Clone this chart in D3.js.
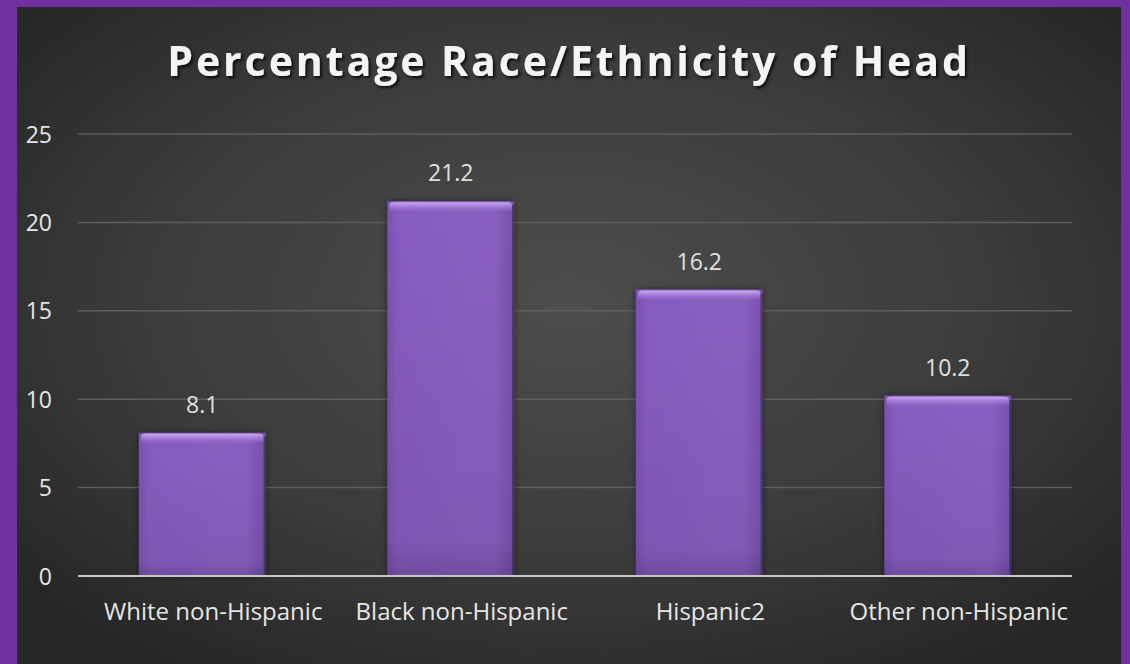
<!DOCTYPE html>
<html>
<head>
<meta charset="utf-8">
<script src="https://cdn.jsdelivr.net/npm/d3@7"></script>
<style>
  html, body { margin: 0; padding: 0; background: #7030a0; }
  svg { display: block; }
</style>
</head>
<body>
<svg id="chart" width="1130" height="664"></svg>
<script>
// Chart data
const categories = ["White non-Hispanic", "Black non-Hispanic", "Hispanic2", "Other non-Hispanic"];
const values = [8.1, 21.2, 16.2, 10.2];
const yTicks = [0, 5, 10, 15, 20, 25];
const titleText = "Percentage Race/Ethnicity of Head";

const W = 1130, H = 664;
const panel = { x: 17, y: 7, w: 1104, h: 657 };
const plot = { left: 78, right: 1072, top: 134, bottom: 576 };

const svg = d3.select("#chart");
const defs = svg.append("defs");

// Dark panel with a soft radial glow in the middle
const bg = defs.append("radialGradient").attr("id", "bgGrad")
  .attr("cx", "50%").attr("cy", "45%").attr("r", "65%");
bg.append("stop").attr("offset", "0%").attr("stop-color", "#4d4d4d");
bg.append("stop").attr("offset", "60%").attr("stop-color", "#3b3b3b");
bg.append("stop").attr("offset", "100%").attr("stop-color", "#272727");

// Bar body: slightly darker towards the sides
const barGrad = defs.append("linearGradient").attr("id", "barGrad")
  .attr("x1", "0").attr("x2", "1").attr("y1", "0").attr("y2", "0");
barGrad.append("stop").attr("offset", "0%").attr("stop-color", "#7a52b0");
barGrad.append("stop").attr("offset", "8%").attr("stop-color", "#875cc0");
barGrad.append("stop").attr("offset", "85%").attr("stop-color", "#8a5fc2");
barGrad.append("stop").attr("offset", "100%").attr("stop-color", "#7650ab");

// Vertical shading: darker towards the base
const barShade = defs.append("linearGradient").attr("id", "barShade")
  .attr("x1", "0").attr("x2", "0").attr("y1", "0").attr("y2", "1");
barShade.append("stop").attr("offset", "0%").attr("stop-color", "#000").attr("stop-opacity", 0);
barShade.append("stop").attr("offset", "90%").attr("stop-color", "#000").attr("stop-opacity", 0.06);
barShade.append("stop").attr("offset", "100%").attr("stop-color", "#000").attr("stop-opacity", 0.18);

// Soft highlight for the bevelled top edge
const topGlow = defs.append("linearGradient").attr("id", "topGlow")
  .attr("x1", "0").attr("x2", "0").attr("y1", "0").attr("y2", "1");
topGlow.append("stop").attr("offset", "0%").attr("stop-color", "#d2aef5").attr("stop-opacity", 0.95);
topGlow.append("stop").attr("offset", "100%").attr("stop-color", "#a57ad8").attr("stop-opacity", 0);

const glow = defs.append("filter").attr("id", "titleShadow")
  .attr("x", "-10%").attr("y", "-30%").attr("width", "120%").attr("height", "160%");
glow.append("feDropShadow").attr("dx", 2).attr("dy", 2).attr("stdDeviation", 1.5)
  .attr("flood-color", "#000").attr("flood-opacity", 0.8);

const barShadow = defs.append("filter").attr("id", "barShadow")
  .attr("x", "-20%").attr("y", "-10%").attr("width", "140%").attr("height", "120%");
barShadow.append("feDropShadow").attr("dx", 0).attr("dy", 0).attr("stdDeviation", 3)
  .attr("flood-color", "#000").attr("flood-opacity", 0.5);

svg.append("rect")
  .attr("x", panel.x).attr("y", panel.y)
  .attr("width", panel.w).attr("height", panel.h)
  .attr("fill", "url(#bgGrad)");

// Scales
const x = d3.scaleBand().domain(categories)
  .range([plot.left, plot.right]).paddingInner(0.49).paddingOuter(0.245);
const y = d3.scaleLinear().domain([0, 25]).range([plot.bottom, plot.top]);

// Gridlines
svg.append("g").selectAll("line").data(yTicks.filter(d => d > 0)).join("line")
  .attr("x1", plot.left).attr("x2", plot.right)
  .attr("y1", d => y(d)).attr("y2", d => y(d))
  .attr("stroke", "#5e5e5e").attr("stroke-width", 1.5);

// Y axis labels
const yAxis = svg.append("g")
  .attr("transform", `translate(${plot.left - 26},0)`)
  .call(d3.axisLeft(y).tickValues(yTicks).tickSize(0).tickPadding(0));
yAxis.select(".domain").remove();
yAxis.selectAll("text")
  .attr("fill", "#e6e6e6")
  .attr("font-family", "'Open Sans', sans-serif")
  .attr("font-size", 23)
  .attr("dy", "0.35em");

// Bars
const bars = svg.append("g").selectAll("g.bar").data(categories).join("g").attr("class", "bar");
bars.append("rect")
  .attr("x", d => x(d)).attr("width", x.bandwidth())
  .attr("y", (d, i) => y(values[i]))
  .attr("height", (d, i) => y(0) - y(values[i]))
  .attr("fill", "url(#barGrad)")
  .attr("filter", "url(#barShadow)");
bars.append("rect")
  .attr("x", d => x(d)).attr("width", x.bandwidth())
  .attr("y", (d, i) => y(values[i]))
  .attr("height", (d, i) => y(0) - y(values[i]))
  .attr("fill", "url(#barShade)");
bars.append("rect")
  .attr("x", d => x(d) + 2).attr("width", x.bandwidth() - 4)
  .attr("y", (d, i) => y(values[i]) + 1)
  .attr("height", 10)
  .attr("rx", 4)
  .attr("fill", "url(#topGlow)");
// Thin dark edge on the right
bars.append("rect")
  .attr("x", d => x(d) + x.bandwidth() - 2).attr("width", 2)
  .attr("y", (d, i) => y(values[i]) + 4)
  .attr("height", (d, i) => y(0) - y(values[i]) - 4)
  .attr("fill", "#2e1f48").attr("opacity", 0.6);

// Value labels
svg.append("g").selectAll("text").data(categories).join("text")
  .attr("x", d => x(d) + x.bandwidth() / 2)
  .attr("y", (d, i) => y(values[i]) - 20)
  .attr("text-anchor", "middle")
  .attr("fill", "#e0e0e0")
  .attr("font-family", "'Open Sans', sans-serif")
  .attr("font-size", 23)
  .text((d, i) => values[i].toFixed(1));

// Baseline
svg.append("line")
  .attr("x1", plot.left).attr("x2", plot.right)
  .attr("y1", y(0)).attr("y2", y(0))
  .attr("stroke", "#c8c8c8").attr("stroke-width", 2);

// Category labels (set slightly right of the bar centres)
const xAxis = svg.append("g")
  .attr("transform", `translate(11,${plot.bottom})`)
  .call(d3.axisBottom(x).tickSize(0).tickPadding(0));
xAxis.select(".domain").remove();
xAxis.selectAll("text")
  .attr("y", 44)
  .attr("dy", 0)
  .attr("fill", "#e6e6e6")
  .attr("font-family", "'Open Sans', sans-serif")
  .attr("font-size", 24);

// Title
svg.append("text")
  .attr("x", 569).attr("y", 76)
  .attr("text-anchor", "middle")
  .attr("fill", "#f4f4f4")
  .attr("font-family", "'Open Sans', sans-serif")
  .attr("font-weight", "bold")
  .attr("font-size", 41)
  .attr("letter-spacing", 2.95)
  .attr("filter", "url(#titleShadow)")
  .text(titleText);
</script>
</body>
</html>
